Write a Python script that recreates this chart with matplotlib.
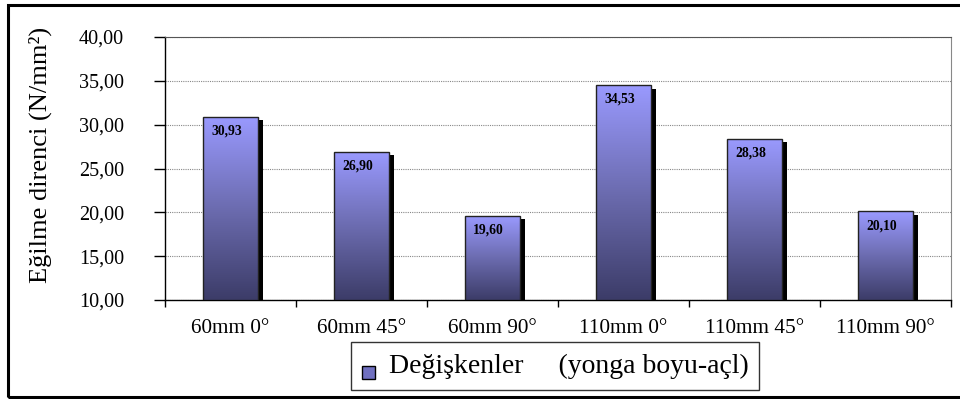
import numpy as np
import matplotlib
matplotlib.use("Agg")
import matplotlib.pyplot as plt
from matplotlib import patheffects
from matplotlib.colors import LinearSegmentedColormap
from matplotlib.legend_handler import HandlerPatch
from matplotlib.patches import Rectangle
from matplotlib.ticker import FixedLocator, FuncFormatter

categories = ["60mm 0°", "60mm 45°", "60mm 90°", "110mm 0°", "110mm 45°", "110mm 90°"]
values = [30.93, 26.90, 19.60, 34.53, 28.38, 20.10]
ylabel = "Eğilme direnci (N/mm²)"
legend_label = "Değişkenler     (yonga boyu-açl)"

plt.rcParams["font.family"] = ["Liberation Serif", "DejaVu Serif"]

fig = plt.figure(figsize=(9.6, 3.99), dpi=100)
ax = fig.add_axes([165 / 960, 1 - 300 / 399, (951 - 165) / 960, (300 - 37) / 399])

x = np.arange(len(categories))
ymin, ymax = 10, 40
width = 0.42

def comma(v, pos=None):
    return f"{v:.2f}".replace(".", ",")

# bars with a solid black drop shadow
bars = ax.bar(x, np.array(values) - ymin, width, bottom=ymin, color="#8080d0",
              edgecolor="none", zorder=3,
              path_effects=[patheffects.SimplePatchShadow(offset=(3.8, -2.6), shadow_rgbFace="black", alpha=1.0),
                            patheffects.Normal()])

# vertical gradient fill clipped to each bar
cmap = LinearSegmentedColormap.from_list("barfill", ["#3c3c68", "#6c6cb0", "#9a9aff"])
grad = np.linspace(0, 1, 256).reshape(-1, 1)
for b, v in zip(bars, values):
    x0 = b.get_x()
    im = ax.imshow(grad, cmap=cmap, aspect="auto", origin="lower",
                   extent=[x0, x0 + width, ymin, v], zorder=4)
    im.set_clip_path(b)
    ax.add_patch(Rectangle((x0, ymin), width, v - ymin, fill=False,
                           edgecolor="#222222", linewidth=1.0, zorder=5))
    ax.text(x0 + width / 2 - 0.03, v - 0.9, comma(v),
            ha="center", va="top", fontsize=9.8, fontweight="bold", zorder=6)

ax.set_xlim(-0.5, len(categories) - 0.5)
ax.set_ylim(ymin, ymax)
ax.set_yticks(np.arange(ymin, ymax + 1, 5))
ax.yaxis.set_major_formatter(FuncFormatter(comma))
ax.set_xticks(x)
ax.set_xticklabels(categories)
ax.xaxis.set_minor_locator(FixedLocator(np.arange(-0.5, len(categories), 1.0)))
ax.tick_params(axis="x", which="major", length=0, pad=14, labelsize=15.3)
ax.tick_params(axis="x", which="minor", length=5, width=1.0, direction="out")
ax.tick_params(axis="y", length=8, width=1.0, direction="out", pad=21.5, labelsize=14.5)

ax.yaxis.grid(True, color="#888888", linestyle=(0, (1, 1)), linewidth=0.8, zorder=1)
ax.set_axisbelow(True)
for side in ["left", "bottom"]:
    ax.spines[side].set_color("black")
    ax.spines[side].set_linewidth(1.0)
ax.spines["top"].set_color("#555555")
ax.spines["right"].set_color("#888888")

fig.text(40 / 960, 1 - 155 / 399, ylabel, rotation=90, ha="center", va="center", fontsize=19)

# legend key sits low, near the text baseline
def low_key(legend, orig_handle, xdescent, ydescent, width, height, fontsize):
    return Rectangle((-xdescent, -ydescent - 7), width, height)

handle = Rectangle((0, 0), 1, 1, facecolor="#7070c0", edgecolor="black", linewidth=1.0)
leg = fig.legend([handle], [legend_label], loc="center", bbox_to_anchor=(555 / 960, 1 - 366 / 399),
                 fontsize=20, frameon=True, fancybox=False, edgecolor="black",
                 handlelength=0.47, handleheight=0.32, handletextpad=0.5, borderpad=0.4,
                 handler_map={Rectangle: HandlerPatch(patch_func=low_key)})
leg.get_frame().set_linewidth(1.0)

# outer chart frame
fig.patches.append(Rectangle((8 / 960, 2 / 399), 1.0, 392 / 399, transform=fig.transFigure,
                             fill=False, edgecolor="black", linewidth=2.2))

fig.savefig("out.png", dpi=100)
